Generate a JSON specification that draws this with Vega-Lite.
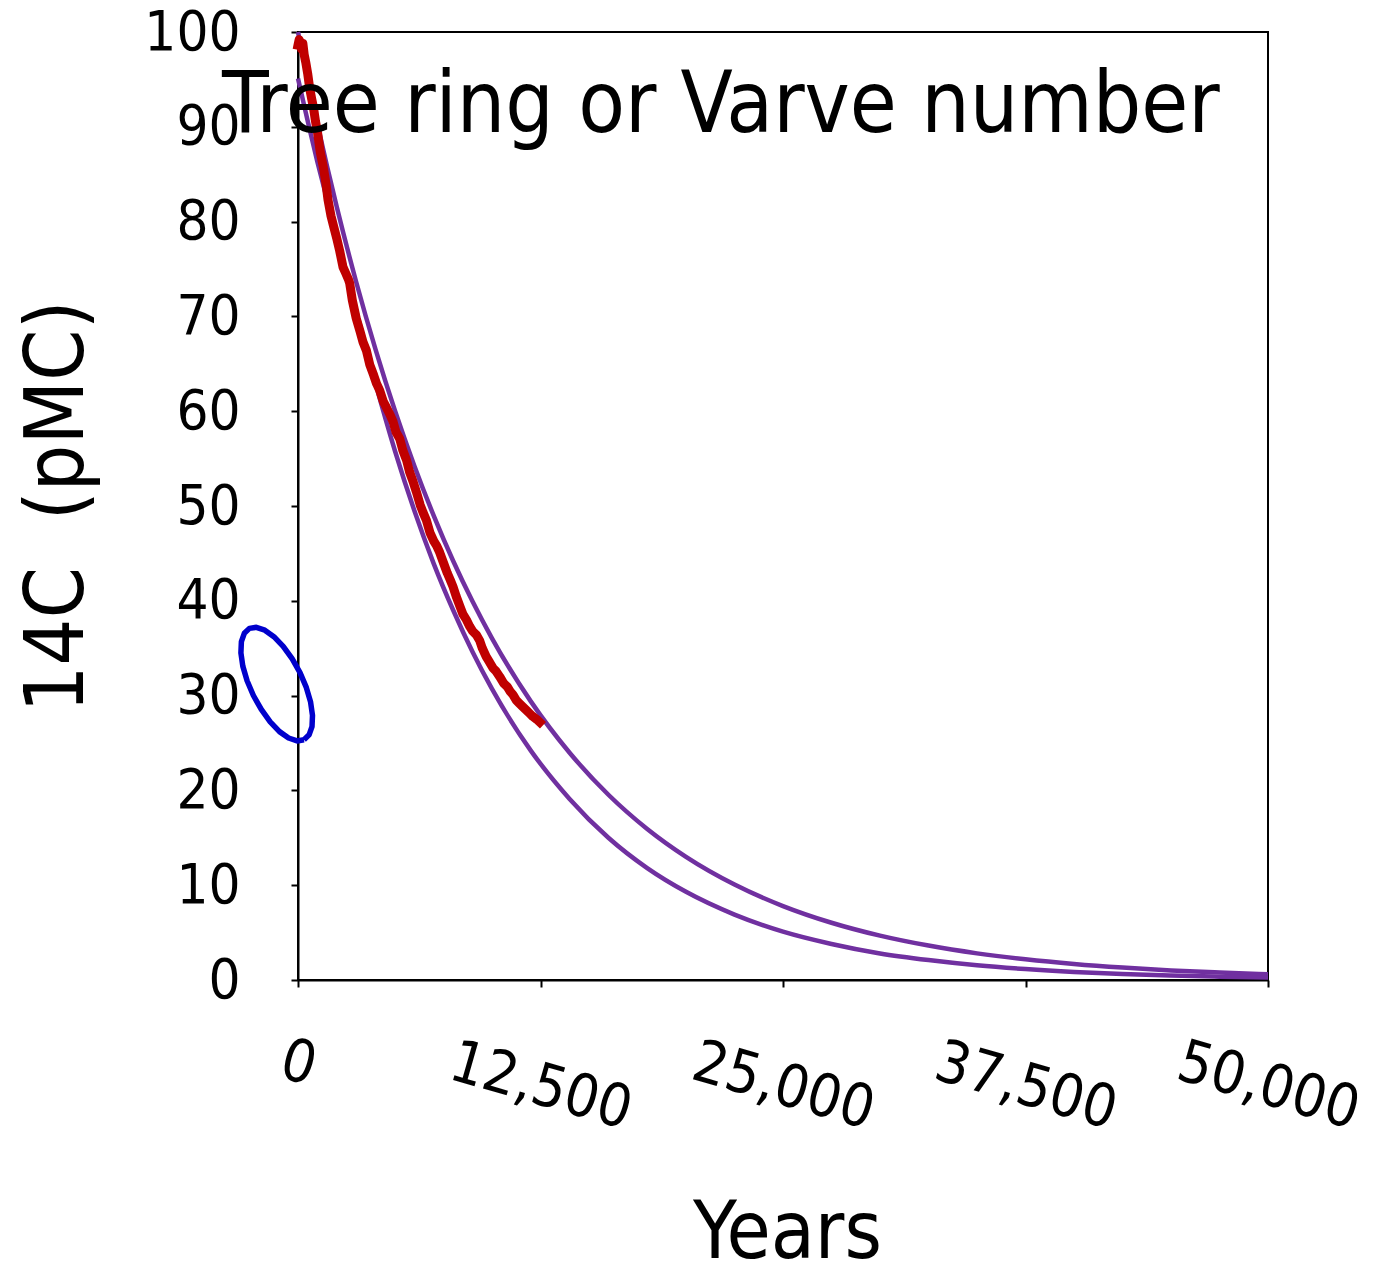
{
  "$schema": "https://vega.github.io/schema/vega-lite/v6.json",
  "autosize": {"type": "none"},
  "width": 970,
  "height": 948,
  "padding": {"left": 298, "top": 32, "right": 110, "bottom": 290},
  "background": "white",
  "title": {
    "text": "Tree ring or Varve number",
    "fontSize": 85,
    "font": "DejaVu Sans Condensed",
    "fontWeight": "normal",
    "color": "black",
    "anchor": "start",
    "frame": "group",
    "dx": -76,
    "baseline": "alphabetic",
    "offset": -213,
    "limit": 2000
  },
  "config": {
    "font": "DejaVu Sans Condensed",
    "view": {"stroke": "black", "strokeWidth": 2},
    "axis": {
      "domainColor": "black",
      "domainWidth": 2,
      "tickColor": "black",
      "tickWidth": 2,
      "tickSize": 7,
      "grid": false,
      "labelColor": "black",
      "titleColor": "black",
      "titleFontWeight": "normal",
      "labelFont": "DejaVu Sans Condensed",
      "titleFont": "DejaVu Sans Condensed",
      "labelLimit": 1000,
      "titleLimit": 2000
    }
  },
  "encoding": {
    "x": {
      "field": "t",
      "type": "quantitative",
      "scale": {"domain": [0, 50000], "nice": false, "zero": false},
      "axis": {
        "values": [0, 12500, 25000, 37500, 50000],
        "format": ",d",
        "labelFontSize": 59,
        "labelAngle": 16,
        "labelAlign": "center",
        "labelBaseline": "middle",
        "labelPadding": {"condition": {"test": "datum.value == 0", "value": 76}, "value": 99},
        "labelOverlap": false,
        "labelFlush": false,
        "title": "Years",
        "titleFontSize": 80,
        "titleBaseline": "alphabetic",
        "titleY": 277,
        "titleX": 489,
        "titleAlign": "center"
      }
    },
    "y": {
      "field": "v",
      "type": "quantitative",
      "scale": {"domain": [0, 100], "nice": false, "zero": false},
      "axis": {
        "values": [0, 10, 20, 30, 40, 50, 60, 70, 80, 90, 100],
        "labelFontSize": 56,
        "labelPadding": 51,
        "labelBaseline": "middle",
        "labelOverlap": false,
        "labelFlush": false,
        "title": "14C\u00a0\u00a0(pMC)",
        "titleFontSize": 82,
        "titleAngle": -90,
        "titleBaseline": "alphabetic",
        "titleAlign": "center",
        "titleX": -216,
        "titleY": 474
      }
    }
  },
  "layer": [
    {
      "data": {"values": [
        {"t": 0, "v": 100}, {"t": 500, "v": 95.03}, {"t": 1000, "v": 90.3}, {"t": 1500, "v": 85.81},
        {"t": 2000, "v": 81.54}, {"t": 3000, "v": 73.63}, {"t": 4000, "v": 66.49}, {"t": 5000, "v": 60.04},
        {"t": 6000, "v": 54.22}, {"t": 7000, "v": 48.96}, {"t": 8000, "v": 44.2}, {"t": 9000, "v": 39.92},
        {"t": 10000, "v": 36.04}, {"t": 12000, "v": 29.39}, {"t": 14000, "v": 23.97}, {"t": 16000, "v": 19.54},
        {"t": 18000, "v": 15.93}, {"t": 20000, "v": 12.99}, {"t": 22500, "v": 10.07}, {"t": 25000, "v": 7.8},
        {"t": 27500, "v": 6.04}, {"t": 30000, "v": 4.68}, {"t": 32500, "v": 3.63}, {"t": 35000, "v": 2.81},
        {"t": 37500, "v": 2.18}, {"t": 40000, "v": 1.69}, {"t": 42500, "v": 1.31}, {"t": 45000, "v": 1.01},
        {"t": 47500, "v": 0.79}, {"t": 50000, "v": 0.61}
      ]},
      "mark": {"type": "line", "color": "#7030A0", "strokeWidth": 4.5, "interpolate": "monotone"}
    },
    {
      "data": {"values": [
        {"t": 0, "v": 95.1}, {"t": 500, "v": 90.6}, {"t": 1000, "v": 86.3}, {"t": 1500, "v": 82.3},
        {"t": 2000, "v": 78.5}, {"t": 3000, "v": 70.6}, {"t": 4000, "v": 62.9}, {"t": 5000, "v": 55.8},
        {"t": 6000, "v": 49.5}, {"t": 7000, "v": 43.9}, {"t": 8000, "v": 39.0}, {"t": 9000, "v": 34.6},
        {"t": 10000, "v": 30.7}, {"t": 12000, "v": 24.2}, {"t": 14000, "v": 19.1}, {"t": 16000, "v": 15.0},
        {"t": 18000, "v": 11.8}, {"t": 20000, "v": 9.3}, {"t": 22500, "v": 6.9}, {"t": 25000, "v": 5.1},
        {"t": 27500, "v": 3.8}, {"t": 30000, "v": 2.8}, {"t": 32500, "v": 2.1}, {"t": 35000, "v": 1.55},
        {"t": 37500, "v": 1.15}, {"t": 40000, "v": 0.85}, {"t": 42500, "v": 0.63}, {"t": 45000, "v": 0.47},
        {"t": 47500, "v": 0.35}, {"t": 50000, "v": 0.26}
      ]},
      "mark": {"type": "line", "color": "#7030A0", "strokeWidth": 4.5, "interpolate": "monotone"}
    },
    {
      "data": {"values": [
        {"t": 0, "v": 98.6}, {"t": 60, "v": 99.2}, {"t": 120, "v": 98.9}, {"t": 180, "v": 98.2},
        {"t": 250, "v": 98.8}, {"t": 320, "v": 97.6}, {"t": 400, "v": 96.8}, {"t": 500, "v": 95.6},
        {"t": 600, "v": 94.1}, {"t": 700, "v": 93.0}, {"t": 800, "v": 92.0}, {"t": 900, "v": 90.6},
        {"t": 1000, "v": 89.5}, {"t": 1150, "v": 87.3}, {"t": 1300, "v": 85.8}, {"t": 1450, "v": 83.9},
        {"t": 1546, "v": 82.3}, {"t": 1700, "v": 80.6}, {"t": 1850, "v": 79.4}, {"t": 2000, "v": 78.2},
        {"t": 2150, "v": 76.9}, {"t": 2320, "v": 75.2}, {"t": 2450, "v": 74.6}, {"t": 2600, "v": 73.9},
        {"t": 2665, "v": 73.5}, {"t": 2800, "v": 71.7}, {"t": 3000, "v": 69.8}, {"t": 3200, "v": 68.4},
        {"t": 3350, "v": 67.3}, {"t": 3525, "v": 66.4}, {"t": 3700, "v": 64.9}, {"t": 3900, "v": 63.8},
        {"t": 4050, "v": 62.9}, {"t": 4211, "v": 62.2}, {"t": 4400, "v": 61.0}, {"t": 4556, "v": 60.4},
        {"t": 4750, "v": 59.6}, {"t": 4900, "v": 58.9}, {"t": 5050, "v": 57.8}, {"t": 5242, "v": 57.1},
        {"t": 5400, "v": 55.9}, {"t": 5600, "v": 54.8}, {"t": 5750, "v": 53.6}, {"t": 5928, "v": 52.6},
        {"t": 6100, "v": 51.5}, {"t": 6300, "v": 50.1}, {"t": 6450, "v": 49.3}, {"t": 6618, "v": 48.5},
        {"t": 6800, "v": 47.2}, {"t": 7000, "v": 46.3}, {"t": 7150, "v": 45.8}, {"t": 7304, "v": 45.1},
        {"t": 7500, "v": 44.0}, {"t": 7700, "v": 42.9}, {"t": 7850, "v": 42.2}, {"t": 7990, "v": 41.5},
        {"t": 8150, "v": 40.5}, {"t": 8350, "v": 39.4}, {"t": 8500, "v": 38.6}, {"t": 8680, "v": 38.0},
        {"t": 8850, "v": 37.3}, {"t": 9000, "v": 36.8}, {"t": 9200, "v": 36.4}, {"t": 9366, "v": 35.8},
        {"t": 9500, "v": 35.0}, {"t": 9700, "v": 34.1}, {"t": 9881, "v": 33.5}, {"t": 10050, "v": 32.9},
        {"t": 10200, "v": 32.6}, {"t": 10397, "v": 32.0}, {"t": 10600, "v": 31.3}, {"t": 10800, "v": 30.9},
        {"t": 10950, "v": 30.4}, {"t": 11083, "v": 30.1}, {"t": 11250, "v": 29.5}, {"t": 11400, "v": 29.2},
        {"t": 11598, "v": 28.8}, {"t": 11800, "v": 28.4}, {"t": 11950, "v": 28.1}, {"t": 12100, "v": 27.8},
        {"t": 12300, "v": 27.5}, {"t": 12459, "v": 27.2}
      ]},
      "mark": {"type": "line", "color": "#C00000", "strokeWidth": 9, "strokeJoin": "round", "strokeCap": "square"}
    },
    {
      "data": {"values": [
        {"i": 0, "t": 309, "v": 25.34}, {"i": 1, "t": -46, "v": 25.22}, {"i": 2, "t": -485, "v": 25.53},
        {"i": 3, "t": -954, "v": 26.2}, {"i": 4, "t": -1433, "v": 27.23}, {"i": 5, "t": -1892, "v": 28.54},
        {"i": 6, "t": -2299, "v": 30.01}, {"i": 7, "t": -2624, "v": 31.57}, {"i": 8, "t": -2845, "v": 33.11},
        {"i": 9, "t": -2943, "v": 34.51}, {"i": 10, "t": -2918, "v": 35.7}, {"i": 11, "t": -2768, "v": 36.57},
        {"i": 12, "t": -2505, "v": 37.09}, {"i": 13, "t": -2149, "v": 37.2}, {"i": 14, "t": -1711, "v": 36.9},
        {"i": 15, "t": -1242, "v": 36.22}, {"i": 16, "t": -763, "v": 35.2}, {"i": 17, "t": -304, "v": 33.89},
        {"i": 18, "t": 103, "v": 32.42}, {"i": 19, "t": 428, "v": 30.86}, {"i": 20, "t": 649, "v": 29.32},
        {"i": 21, "t": 747, "v": 27.91}, {"i": 22, "t": 722, "v": 26.73}, {"i": 23, "t": 572, "v": 25.86},
        {"i": 24, "t": 309, "v": 25.34}
      ]},
      "mark": {"type": "line", "color": "#0000CC", "strokeWidth": 5.5, "clip": false, "interpolate": "linear", "strokeJoin": "round"},
      "encoding": {"order": {"field": "i", "type": "quantitative"}}
    }
  ]
}
